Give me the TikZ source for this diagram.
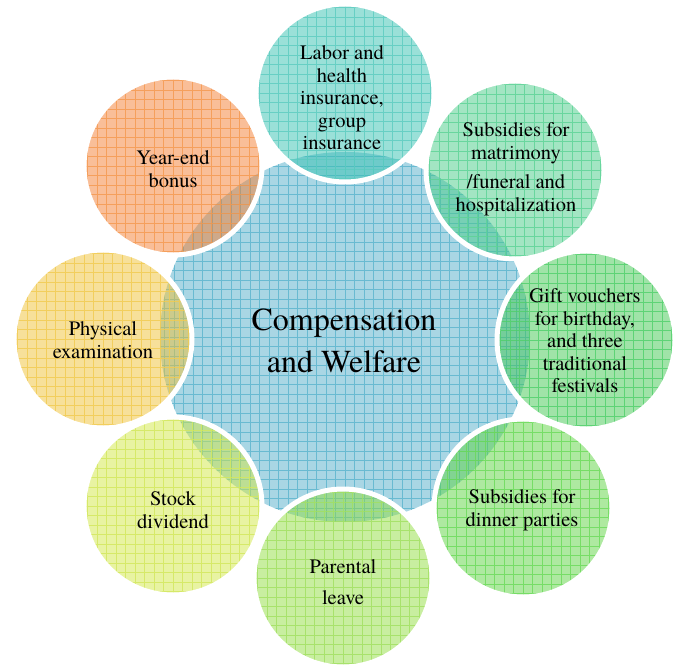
\documentclass[tikz,border=0pt]{standalone}
\usepackage{fontspec}
\setmainfont{texgyretermes}[Extension=.otf, UprightFont=*-regular, BoldFont=*-bold]
% fill colours (laid on at half strength) and grid-line colours
\definecolor{hubF}{RGB}{169,214,228}  \definecolor{hubL}{RGB}{90,180,205}
\definecolor{labF}{RGB}{53,193,177}   \definecolor{labL}{RGB}{92,204,192}
\definecolor{marF}{RGB}{71,203,135}   \definecolor{marL}{RGB}{92,211,149}
\definecolor{gifF}{RGB}{65,199,81}    \definecolor{gifL}{RGB}{79,207,106}
\definecolor{dinF}{RGB}{93,211,65}    \definecolor{dinL}{RGB}{106,218,88}
\definecolor{parF}{RGB}{145,221,65}   \definecolor{parL}{RGB}{161,224,96}
\definecolor{stoF}{RGB}{209,231,69}   \definecolor{stoL}{RGB}{211,232,92}
\definecolor{phyF}{RGB}{239,193,53}   \definecolor{phyL}{RGB}{242,203,78}
\definecolor{yeaF}{RGB}{243,125,49}   \definecolor{yeaL}{RGB}{245,153,78}
\begin{document}
\begin{tikzpicture}[x=1pt,y=-1pt,
  gridded/.style={path picture={\draw[#1, opacity=0.8, line width=0.6pt, step=9.5pt]
      (path picture bounding box.south west) grid (path picture bounding box.north east);}},
  hubdisc/.style={circle, minimum size=370pt, inner sep=0pt, fill=hubF, gridded=hubL},
  bubble/.style 2 args={circle, minimum size=178pt, inner sep=0pt,
      fill=#1, fill opacity=0.5, draw=white, draw opacity=1, line width=5pt, gridded=#2},
  lbl/.style={align=center, inner sep=0pt, text=black,
      font=\rmfamily\fontsize{20.5}{22.5}\selectfont},
  hublbl/.style={align=center, inner sep=0pt, text=black,
      font=\rmfamily\fontsize{32}{42}\selectfont}]
\useasboundingbox (0,0) rectangle (682,668);

% central disc
\node[hubdisc] (hub) at (345,337) {};

% surrounding discs
\node[bubble={labF}{labL}] (labor)    at (345,93)  {};
\node[bubble={marF}{marL}] (marriage) at (515,170) {};
\node[bubble={gifF}{gifL}] (gift)     at (586,340) {};
\node[bubble={dinF}{dinL}] (dinner)   at (523,508) {};
\node[bubble={parF}{parL}] (parental) at (343,578) {};
\node[bubble={stoF}{stoL}] (stock)    at (173,506) {};
\node[bubble={phyF}{phyL}] (physical) at (103,339) {};
\node[bubble={yeaF}{yeaL}] (yearend)  at (173,166) {};

% labels
\node[hublbl] (hubtext) at (344,341) {Compensation\\and Welfare};
\node[lbl] (labortext)    at (342,98)  {Labor and\\health\\insurance,\\group\\insurance};
\node[lbl] (marriagetext) at (516,169) {Subsidies for\\matrimony\\[7pt]/funeral and\\hospitalization};
\node[lbl] (gifttext)     at (585,341) {Gift vouchers\\for birthday,\\and three\\traditional\\festivals};
\node[lbl] (dinnertext)   at (522,510) {Subsidies for\\dinner parties};
\node[lbl] (parentaltext) at (343,582) {Parental\\[8pt]leave};
\node[lbl] (stocktext)    at (173,510) {Stock\\dividend};
\node[lbl] (physicaltext) at (103,340) {Physical\\examination};
\node[lbl] (yearendtext)  at (173,169) {Year-end\\bonus};
\end{tikzpicture}
\end{document}
